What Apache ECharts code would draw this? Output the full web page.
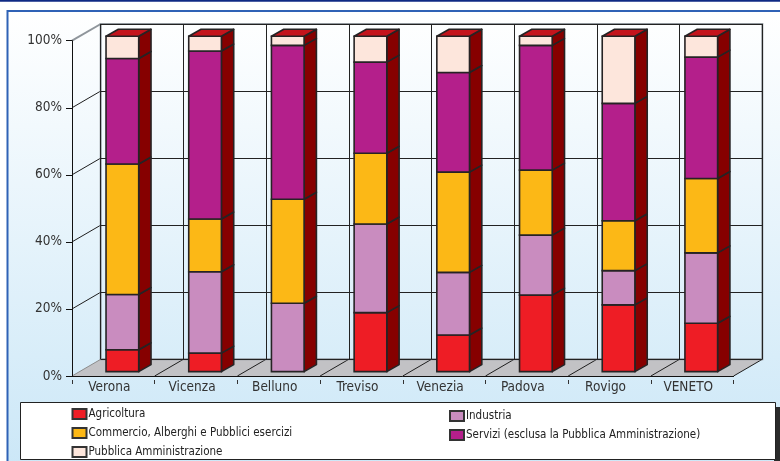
<!DOCTYPE html>
<html>
<head>
<meta charset="utf-8">
<script src="https://cdn.jsdelivr.net/npm/echarts@6/dist/echarts.min.js"></script>
<style>
  html, body { margin: 0; padding: 0; background: #ffffff; }
  #chart { width: 780px; height: 461px; }
</style>
</head>
<body>
<div id="chart"></div>
<script>
// Composizione percentuale per settore, province del Veneto
const categories = ['Verona', 'Vicenza', 'Belluno', 'Treviso', 'Venezia', 'Padova', 'Rovigo', 'VENETO'];
const agricoltura = [6.5, 5.5, 0, 17.6, 10.9, 22.8, 19.9, 14.4];
const industria   = [16.5, 24.3, 20.4, 26.4, 18.7, 17.9, 10.2, 21.0];
const commercio   = [38.9, 15.7, 31.0, 21.1, 29.9, 19.4, 14.9, 22.2];
const servizi     = [31.5, 50.1, 45.9, 27.2, 29.7, 37.2, 35.0, 36.2];
const pubblica    = [6.6, 4.4, 2.7, 7.7, 10.8, 2.7, 20.0, 6.2];
const yTicks = [0, 20, 40, 60, 80, 100];

const FONT = "'Liberation Sans Narrow','Arial Narrow','DejaVu Sans Condensed',sans-serif";
const EDGE = '#262324';
const SIDE = '#860000';
const TOP = '#c4141c';

// front plane of the 3D box and depth offset of the back wall
const FRONT = { left: 72, top: 40.7, width: 661.6, height: 335.3 };
const DEPTH = { x: 28.7, y: -16.7 };

const layers = [
  { name: 'Agricoltura', values: agricoltura, color: '#ee1d25' },
  { name: 'Industria', values: industria, color: '#c98cbf' },
  { name: 'Commercio, Alberghi e Pubblici esercizi', values: commercio, color: '#fcb816' },
  { name: 'Servizi (esclusa la Pubblica Amministrazione)', values: servizi, color: '#b41f8b' },
  { name: 'Pubblica Amministrazione', values: pubblica, color: '#fde6dc' }
];

// stack the layers: each datum is [category, base, top, isTopLayer]
const running = categories.map(() => 0);
const stacked = layers.map((layer, li) => layer.values.map((v, ci) => {
  const base = running[ci];
  running[ci] += v;
  return [ci, base, running[ci], li === layers.length - 1 ? 1 : 0];
}));

function renderBar(color) {
  return function (params, api) {
    const ci = api.value(0), lo = api.value(1), hi = api.value(2), isTop = api.value(3);
    if (hi - lo <= 0) return null;
    const band = api.size([1, 0])[0];
    const w = band * 0.395;
    const sx = band * 0.109, sy = -4.4;     // bar sits a little inside the box
    const dx = band * 0.149, dy = -7;       // bar depth
    const pLo = api.coord([ci, lo]);
    const pHi = api.coord([ci, hi]);
    const xl = pLo[0] - w / 2 + sx, xr = xl + w;
    const yb = pLo[1] + sy, yt = pHi[1] + sy;
    const children = [
      {
        type: 'polygon',
        shape: { points: [[xr, yt], [xr + dx, yt + dy], [xr + dx, yb + dy], [xr, yb]] },
        style: { fill: SIDE, stroke: EDGE, lineWidth: 1.6, lineJoin: 'round' }
      },
      {
        type: 'rect',
        shape: { x: xl, y: yt, width: w, height: yb - yt },
        style: { fill: color, stroke: EDGE, lineWidth: 1.6 }
      }
    ];
    if (isTop) {
      children.push({
        type: 'polygon',
        shape: { points: [[xl, yt], [xl + dx, yt + dy], [xr + dx, yt + dy], [xr, yt]] },
        style: { fill: TOP, stroke: EDGE, lineWidth: 1.6, lineJoin: 'round' }
      });
    }
    return { type: 'group', children: children };
  };
}

// floor, left wall lines and floor dividers of the 3D box
function renderFrame(params, api) {
  const band = api.size([1, 0])[0];
  const n = categories.length;
  const x0 = api.coord([0, 0])[0] - band / 2;
  const x1 = api.coord([n - 1, 0])[0] + band / 2;
  const y0 = api.coord([0, 0])[1];
  const children = [{
    type: 'polygon',
    shape: { points: [[x0, y0], [x1, y0], [x1 + DEPTH.x, y0 + DEPTH.y], [x0 + DEPTH.x, y0 + DEPTH.y]] },
    style: { fill: '#c2c2c5', stroke: null }
  }];
  for (let k = 0; k <= n; k++) {
    const x = x0 + band * k;
    children.push({
      type: 'line',
      shape: { x1: x, y1: y0, x2: x + DEPTH.x, y2: y0 + DEPTH.y },
      style: { stroke: k === 0 ? '#8c8c8c' : '#1e1e1e', lineWidth: 1 }
    });
  }
  yTicks.forEach((t) => {
    if (t === 0) return;
    const y = api.coord([0, t])[1];
    children.push({
      type: 'line',
      shape: { x1: x0, y1: y, x2: x0 + DEPTH.x, y2: y + DEPTH.y },
      style: { stroke: t === 100 ? '#8f959b' : '#1e1e1e', lineWidth: t === 100 ? 2 : 1 }
    });
  });
  return { type: 'group', children: children };
}

const barSeries = layers.map((layer, li) => ({
  name: layer.name,
  type: 'custom',
  xAxisIndex: 0,
  yAxisIndex: 0,
  z: 5,
  itemStyle: { color: layer.color, borderColor: '#333', borderWidth: 1 },
  renderItem: renderBar(layer.color),
  data: stacked[li]
}));

const legendText = { fontSize: 11.5, color: '#222', fontFamily: FONT, padding: [0, 0, 0, -3] };

const chart = echarts.init(document.getElementById('chart'), null, { renderer: 'canvas' });
chart.setOption({
  animation: false,
  backgroundColor: '#ffffff',
  textStyle: { fontFamily: FONT },
  graphic: [
    {
      type: 'rect', z: -20,
      shape: { x: 8, y: 11, width: 780, height: 460 },
      style: {
        fill: new echarts.graphic.LinearGradient(0, 0, 0, 1, [
          { offset: 0, color: '#ffffff' },
          { offset: 1, color: '#cbe7f7' }
        ])
      }
    },
    { type: 'line', z: -19, shape: { x1: 0, y1: 0.8, x2: 780, y2: 0.8 }, style: { stroke: '#0f2a84', lineWidth: 2 } },
    { type: 'line', z: -19, shape: { x1: 7.5, y1: 11, x2: 780, y2: 11 }, style: { stroke: '#2f62b6', lineWidth: 2 } },
    { type: 'line', z: -19, shape: { x1: 7.5, y1: 10, x2: 7.5, y2: 461 }, style: { stroke: '#2f62b6', lineWidth: 2 } },
    { type: 'rect', z: -18, shape: { x: 774, y: 407, width: 6, height: 54 }, style: { fill: '#2b2b2b' } },
    { type: 'rect', z: -17, shape: { x: 20.5, y: 402.5, width: 755, height: 57 }, style: { fill: '#ffffff', stroke: '#222222', lineWidth: 1 } }
  ],
  grid: [
    { left: FRONT.left, top: FRONT.top, width: FRONT.width, height: FRONT.height, containLabel: false },
    {
      left: FRONT.left + DEPTH.x, top: FRONT.top + DEPTH.y, width: FRONT.width, height: FRONT.height,
      show: true, borderColor: '#92989e', borderWidth: 2, backgroundColor: 'transparent'
    }
  ],
  xAxis: [
    {
      type: 'category', gridIndex: 0, data: categories, position: 'bottom',
      axisLine: { show: true, lineStyle: { color: '#111', width: 1 } },
      axisTick: { show: false },
      axisLabel: { fontSize: 13.5, color: '#333', margin: 4, fontFamily: FONT, padding: [0, 8, 0, 0] },
      splitLine: { show: false }
    },
    {
      type: 'category', gridIndex: 0, data: categories, position: 'bottom', offset: 4,
      axisLine: { show: false },
      axisTick: { show: true, length: 4, lineStyle: { color: '#333', width: 1 } },
      axisLabel: { show: false },
      splitLine: { show: false }
    },
    {
      type: 'category', gridIndex: 1, data: categories,
      axisLine: { show: false }, axisTick: { show: false }, axisLabel: { show: false },
      splitLine: { show: true, interval: 0, lineStyle: { color: '#222', width: 1 } }
    }
  ],
  yAxis: [
    {
      type: 'value', gridIndex: 0, min: 0, max: 100, interval: 20,
      axisLine: { show: true, lineStyle: { color: '#111', width: 1 } },
      axisTick: { show: true, length: 6, lineStyle: { color: '#111' } },
      axisLabel: { formatter: '{value}%', fontSize: 13.5, color: '#333', margin: 10, fontFamily: FONT },
      splitLine: { show: false }
    },
    {
      type: 'value', gridIndex: 1, min: 0, max: 100, interval: 20,
      axisLine: { show: false }, axisTick: { show: false }, axisLabel: { show: false },
      splitLine: { show: true, lineStyle: { color: '#222', width: 1 } }
    }
  ],
  legend: [
    {
      data: [layers[0].name, layers[2].name, layers[4].name],
      orient: 'vertical', left: 71.5, top: 408, padding: 0, itemGap: 7,
      itemWidth: 14, itemHeight: 10, icon: 'rect', selectedMode: false,
      textStyle: legendText
    },
    {
      data: [layers[1].name, layers[3].name],
      orient: 'vertical', left: 449, top: 410, padding: 0, itemGap: 7,
      itemWidth: 14, itemHeight: 10, icon: 'rect', selectedMode: false,
      textStyle: legendText
    }
  ],
  series: [
    {
      type: 'custom', name: 'frame', xAxisIndex: 0, yAxisIndex: 0, z: -1,
      silent: true, renderItem: renderFrame, data: [[0]]
    }
  ].concat(barSeries)
});
</script>
</body>
</html>
